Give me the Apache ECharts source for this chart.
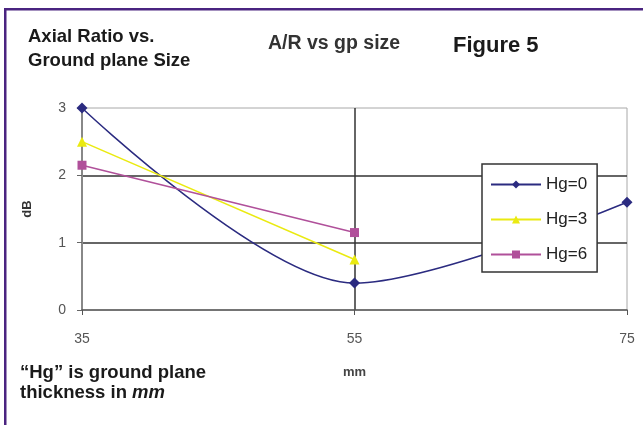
<!DOCTYPE html>
<html>
<head>
<meta charset="utf-8">
<script src="https://cdn.jsdelivr.net/npm/echarts@6/dist/echarts.min.js"></script>
<style>
html,body{margin:0;padding:0;background:#fff;}
#c{width:643px;height:427px;}
</style>
</head>
<body>
<div id="c"></div>
<script>
// Data
var xTicks = [35, 55, 75];
var yTicks = [0, 1, 2, 3];
var seriesNames = ['Hg=0', 'Hg=3', 'Hg=6'];
var hg0X = [35, 55, 75];
var hg0Y = [3, 0.4, 1.6];
var hg3X = [35, 55];
var hg3Y = [2.5, 0.75];
var hg6X = [35, 55];
var hg6Y = [2.15, 1.15];

function pairs(xs, ys) { return xs.map(function (x, i) { return [x, ys[i]]; }); }

var FONT = 'Liberation Sans, Arial, sans-serif';
var chart = echarts.init(document.getElementById('c'), null, { renderer: 'canvas' });

chart.setOption({
  animation: false,
  backgroundColor: '#fff',
  textStyle: { fontFamily: FONT },
  grid: { left: 82, right: 16, top: 108, bottom: 117, show: true, borderColor: '#a8a8a8', borderWidth: 1, backgroundColor: 'transparent' },
  xAxis: {
    type: 'value',
    min: xTicks[0], max: xTicks[xTicks.length - 1], interval: xTicks[1] - xTicks[0],
    name: 'mm', nameLocation: 'middle', nameGap: 56,
    nameTextStyle: { color: '#444', fontSize: 13, fontWeight: 'bold', fontFamily: FONT },
    axisLine: { show: true, lineStyle: { color: '#555', width: 1.5 } },
    axisTick: { show: true, length: 5, lineStyle: { color: '#555' } },
    axisLabel: { color: '#555', fontSize: 14, margin: 22, fontFamily: FONT },
    splitLine: { show: true, showMinLine: false, showMaxLine: false, lineStyle: { color: '#333', width: 1.5 } }
  },
  yAxis: {
    type: 'value',
    min: yTicks[0], max: yTicks[yTicks.length - 1], interval: 1,
    name: 'dB', nameLocation: 'middle', nameGap: 48, nameRotate: 90,
    nameTextStyle: { color: '#333', fontSize: 13, fontWeight: 'bold', fontFamily: FONT },
    axisLine: { show: true, lineStyle: { color: '#888', width: 2 } },
    axisTick: { show: true, length: 5, lineStyle: { color: '#666' } },
    axisLabel: { color: '#555', fontSize: 14, margin: 16, fontFamily: FONT },
    splitLine: { show: true, showMinLine: false, showMaxLine: false, lineStyle: { color: '#333', width: 1.5 } }
  },
  legend: {
    orient: 'vertical',
    left: 482, top: 164,
    padding: [12, 10, 9, 8],
    itemWidth: 50, itemHeight: 10, itemGap: 18,
    backgroundColor: '#fff',
    borderColor: '#333', borderWidth: 1.5,
    textStyle: { color: '#222', fontSize: 17, fontFamily: FONT },
    data: seriesNames
  },
  series: [
    { name: seriesNames[0], type: 'line', smooth: 0.3, data: pairs(hg0X, hg0Y),
      symbol: 'diamond', symbolSize: 11, color: '#2b2b80',
      lineStyle: { width: 1.5, color: '#2b2b80' }, itemStyle: { color: '#2b2b80' } },
    { name: seriesNames[1], type: 'line', data: pairs(hg3X, hg3Y),
      symbol: 'triangle', symbolSize: 10, color: '#eaea10',
      lineStyle: { width: 1.5, color: '#eaea10' }, itemStyle: { color: '#eaea10' } },
    { name: seriesNames[2], type: 'line', data: pairs(hg6X, hg6Y),
      symbol: 'rect', symbolSize: 9, color: '#b0509a',
      lineStyle: { width: 1.5, color: '#b0509a' }, itemStyle: { color: '#b0509a' } }
  ],
  graphic: [
    { type: 'rect', shape: { x: 4, y: 8, width: 643, height: 2.5 }, style: { fill: '#4a2480' }, silent: true },
    { type: 'rect', shape: { x: 4, y: 8, width: 2.5, height: 417 }, style: { fill: '#4a2480' }, silent: true },
    { type: 'text', left: 28, top: 27, style: { text: 'Axial Ratio vs.', font: 'bold 18.5px ' + FONT, fill: '#1a1a1a' } },
    { type: 'text', left: 28, top: 51, style: { text: 'Ground plane Size', font: 'bold 18.5px ' + FONT, fill: '#1a1a1a' } },
    { type: 'text', left: 268, top: 34, style: { text: 'A/R vs gp size', font: 'bold 19.5px ' + FONT, fill: '#333' } },
    { type: 'text', left: 453, top: 35, style: { text: 'Figure 5', font: 'bold 22px ' + FONT, fill: '#1a1a1a' } },
    { type: 'text', left: 20, top: 363, style: { text: '\u201cHg\u201d is ground plane', font: 'bold 18.5px ' + FONT, fill: '#1a1a1a' } },
    { type: 'text', left: 20, top: 383, style: {
        text: '{a|thickness in }{b|mm}',
        rich: {
          a: { font: 'bold 18.5px ' + FONT, fill: '#1a1a1a', color: '#1a1a1a' },
          b: { font: 'italic bold 18.5px ' + FONT, fill: '#1a1a1a', color: '#1a1a1a' }
        } } }
  ]
});
</script>
</body>
</html>
